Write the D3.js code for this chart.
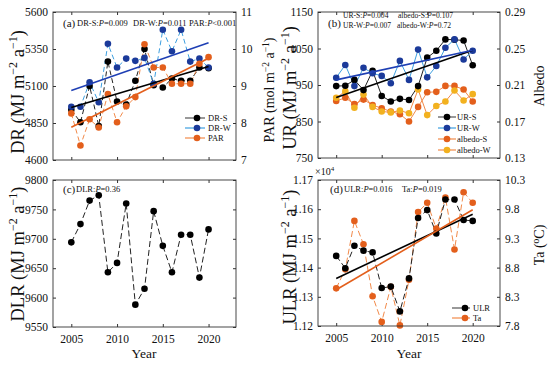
<!DOCTYPE html>
<html>
<head>
<meta charset="utf-8" />
<script src="https://d3js.org/d3.v7.min.js"></script>
<style>
  body { margin: 0; background: #fff; }
  text { font-family: "Liberation Serif", "Times New Roman", serif; fill: #111; }
</style>
</head>
<body>
<svg id="viz" width="550" height="365"></svg>
<script>
// ---- data ----
var years = [2005, 2006, 2007, 2008, 2009, 2010, 2011, 2012, 2013, 2014, 2015, 2016, 2017, 2018, 2019, 2020];

// (a)
var drS = [4940, 4855, 5100, 4830, 5265, 4995, 4975, 5135, 5350, 5105, 5090, 5150, 5135, 5135, 5225, 5220];
var drW = [4960, 4960, 5125, 4990, 5385, 5225, 5285, 5270, 5290, 5115, 5480, 5335, 5480, 5265, 5285, 5225];
var par = [8.26, 7.39, 8.10, 7.88, 8.78, 8.02, 8.45, 8.70, 10.13, 9.50, 9.50, 9.06, 9.06, 9.06, 9.60, 9.78];
var drSTrend = [4954, 5232];
var drWTrend = [5070, 5392];
var parTrend = [7.885, 9.75];

// (b)
var urS = [947, 948, 964, 936, 989, 920, 905, 912, 909, 947, 1025, 1044, 1075, 1074, 1072, 1004];
var urW = [970, 1005, 947, 997, 982, 975, 955, 1016, 964, 1047, 971, 1002, 1052, 1075, 1020, 1044];
var albS = [0.1925, 0.196, 0.189, 0.194, 0.188, 0.1845, 0.181, 0.178, 0.170, 0.186, 0.202, 0.2025, 0.209, 0.209, 0.205, 0.192];
var albW = [0.196, 0.203, 0.185, 0.1995, 0.186, 0.181, 0.180, 0.182, 0.179, 0.205, 0.177, 0.187, 0.192, 0.204, 0.193, 0.200];
var urSTrend = [916, 1045];
var urWTrend = [964, 1045];

// (c)
var dlr = [9694, 9725, 9765, 9774, 9643, 9659, 9760, 9588, 9615, 9747, 9688, 9643, 9707, 9707, 9634, 9716];

// (d)  ULR in units of 10^4
var ulr = [1.1440, 1.1398, 1.1475, 1.1458, 1.1452, 1.1330, 1.1335, 1.1250, 1.1363, 1.1570, 1.1597, 1.1517, 1.1633, 1.1633, 1.1563, 1.1560];
var ta = [8.445, 8.77, 9.60, 9.20, 8.31, 7.87, 8.47, 7.81, 8.59, 9.75, 9.91, 9.47, 10.00, 9.11, 10.09, 9.91];
var ulrTrend = [1.1363, 1.1583];
var taTrend = [8.42, 9.79];

// tick labels
var xTicks = [2005, 2010, 2015, 2020];
var drTicks = [4600, 4850, 5100, 5350, 5600];
var parTicks = [7, 8, 9, 10, 11];
var urTicks = [750, 850, 950, 1050, 1150];
var albTicks = [0.13, 0.17, 0.21, 0.25, 0.29];
var dlrTicks = [9550, 9600, 9650, 9700, 9750, 9800];
var ulrTicks = [1.12, 1.13, 1.14, 1.15, 1.16, 1.17];
var taTicks = [7.8, 8.3, 8.8, 9.3, 9.8, 10.3];

var svg = d3.select("#viz");
var R = 3.3;

var C = {
  blk: "#000",
  navy: "#1b3a9a",
  ltblue: "#3d9fe0",
  trBlue: "#1e3fb4",
  orng: "#e35f1c",
  ltorng: "#f28a4a",
  gold: "#f2b11f"
};

// rich text helper: parts = [text, size, italic, sup]
function rich(sel, parts) {
  var cur = 0;
  parts.forEach(function(p) {
    var size = p[1], target = p[3] ? -size * 0.55 : 0;
    var t = sel.append("tspan").text(p[0]).attr("font-size", size).attr("dy", target - cur);
    if (p[2]) t.attr("font-style", "italic");
    cur = target;
  });
}

function ylabel(x, y, parts) {
  var t = svg.append("text")
    .attr("transform", "translate(" + x + "," + y + ") rotate(-90)")
    .attr("text-anchor", "middle");
  rich(t, parts);
}

function note(x, y, parts) {
  var t = svg.append("text").attr("x", x).attr("y", y).style("white-space", "pre");
  rich(t, parts);
}

function panel(o) {
  var x = d3.scaleLinear().domain([2003, 2023]).range([o.l, o.r]);
  var yL = d3.scaleLinear().domain(o.lDom).range([o.b, o.t]);
  var yR = o.rDom ? d3.scaleLinear().domain(o.rDom).range([o.b, o.t]) : yL;

  var g = svg.append("g");
  g.append("rect").attr("x", o.l).attr("y", o.t).attr("width", o.r - o.l).attr("height", o.b - o.t)
    .attr("fill", "#fff");

  var fs = 11.5;
  g.append("g").attr("transform", "translate(0," + o.b + ")")
    .call(d3.axisBottom(x).tickValues(xTicks).tickSizeInner(-3).tickSizeOuter(0).tickPadding(8)
      .tickFormat(o.xLab ? d3.format("d") : ""));
  g.append("g").attr("transform", "translate(0," + o.t + ")")
    .call(d3.axisTop(x).tickValues(xTicks).tickSizeInner(-3).tickSizeOuter(0).tickFormat(""));
  g.append("g").attr("transform", "translate(" + o.l + ",0)")
    .call(d3.axisLeft(yL).tickValues(o.lTicks).tickSizeInner(-3).tickSizeOuter(0).tickPadding(5)
      .tickFormat(o.lFmt));
  g.append("g").attr("transform", "translate(" + o.r + ",0)")
    .call(d3.axisRight(yR).tickValues(o.rTicks || o.lTicks).tickSizeInner(-3).tickSizeOuter(0).tickPadding(5)
      .tickFormat(o.rDom ? o.rFmt : ""));
  g.selectAll(".domain").remove();
  g.selectAll(".tick line").attr("stroke", "#333");
  g.selectAll(".tick text").attr("font-family", "Liberation Serif, serif").attr("font-size", fs).attr("fill", "#111");

  o.series.forEach(function(s) {
    var sc = s.right ? yR : yL;
    var line = d3.line().x(function(d, i) { return x(years[i]); }).y(function(d) { return sc(d); });
    g.append("path").datum(s.v).attr("d", line).attr("fill", "none")
      .attr("stroke", s.lc).attr("stroke-width", 1).attr("stroke-dasharray", s.dash || null);
  });
  o.series.forEach(function(s) {
    var sc = s.right ? yR : yL;
    g.selectAll(null).data(s.v).enter().append("circle")
      .attr("cx", function(d, i) { return x(years[i]); })
      .attr("cy", function(d) { return sc(d); })
      .attr("r", R).attr("fill", s.mc);
  });
  (o.trends || []).forEach(function(tr) {
    var sc = tr.right ? yR : yL;
    g.append("line")
      .attr("x1", x(2005)).attr("x2", x(2020))
      .attr("y1", sc(tr.v[0])).attr("y2", sc(tr.v[1]))
      .attr("stroke", tr.c).attr("stroke-width", 1.6);
  });
  g.append("rect").attr("x", o.l).attr("y", o.t).attr("width", o.r - o.l).attr("height", o.b - o.t)
    .attr("fill", "none").attr("stroke", "#333").attr("stroke-width", 0.9);

  if (o.legend) {
    var L = o.legend;
    L.items.forEach(function(it, i) {
      var yy = L.y + i * L.dy;
      svg.append("line").attr("x1", L.x1).attr("x2", L.x2).attr("y1", yy).attr("y2", yy)
        .attr("stroke", it.lc).attr("stroke-width", 1.2);
      svg.append("circle").attr("cx", L.mx).attr("cy", yy).attr("r", R).attr("fill", it.mc);
      svg.append("text").attr("x", L.tx).attr("y", yy + 3).attr("font-size", L.fs).text(it.name);
    });
  }
}

var fmt0 = d3.format("d");

// (a)
panel({
  l: 53, r: 236, t: 12, b: 160,
  lDom: [4600, 5600], lTicks: drTicks, lFmt: fmt0,
  rDom: [7, 11], rTicks: parTicks, rFmt: fmt0,
  xLab: false,
  series: [
    { v: drS, lc: "#222", mc: C.blk, dash: "5,3" },
    { v: drW, lc: C.ltblue, mc: C.navy, dash: "5,3" },
    { v: par, lc: C.ltorng, mc: C.orng, dash: "5,3", right: true }
  ],
  trends: [
    { v: drWTrend, c: C.trBlue },
    { v: drSTrend, c: C.blk },
    { v: parTrend, c: C.orng, right: true }
  ],
  legend: { x1: 185, x2: 205, mx: 197, tx: 208, y: 118, dy: 10, fs: 8.5,
    items: [
      { name: "DR-S", lc: "#555", mc: C.blk },
      { name: "DR-W", lc: C.ltblue, mc: C.navy },
      { name: "PAR", lc: C.ltorng, mc: C.orng }
    ] }
});

// (b)
panel({
  l: 318, r: 500, t: 12, b: 158,
  lDom: [750, 1150], lTicks: urTicks, lFmt: fmt0,
  rDom: [0.13, 0.29], rTicks: albTicks, rFmt: d3.format(".2f"),
  xLab: false,
  series: [
    { v: albS, lc: C.ltorng, mc: C.orng, right: true },
    { v: albW, lc: C.ltorng, mc: C.gold, right: true },
    { v: urS, lc: "#222", mc: C.blk },
    { v: urW, lc: C.ltblue, mc: C.navy }
  ],
  trends: [
    { v: urSTrend, c: C.blk },
    { v: urWTrend, c: C.trBlue }
  ],
  legend: { x1: 438, x2: 456, mx: 447, tx: 457, y: 117, dy: 11, fs: 8.5,
    items: [
      { name: "UR-S", lc: "#555", mc: C.blk },
      { name: "UR-W", lc: C.ltblue, mc: C.navy },
      { name: "albedo-S", lc: C.ltorng, mc: C.orng },
      { name: "albedo-W", lc: C.ltorng, mc: C.gold }
    ] }
});

// (c)
panel({
  l: 53, r: 236, t: 180, b: 327,
  lDom: [9550, 9800], lTicks: dlrTicks, lFmt: fmt0,
  xLab: true,
  series: [
    { v: dlr, lc: "#222", mc: C.blk, dash: "6,3" }
  ]
});

// (d)
panel({
  l: 318, r: 500, t: 180, b: 326,
  lDom: [1.12, 1.17], lTicks: ulrTicks, lFmt: d3.format(".2f"),
  rDom: [7.8, 10.3], rTicks: taTicks, rFmt: d3.format(".1f"),
  xLab: true,
  series: [
    { v: ta, lc: C.ltorng, mc: C.orng, dash: "6,3", right: true },
    { v: ulr, lc: "#222", mc: C.blk, dash: "6,3" }
  ],
  trends: [
    { v: ulrTrend, c: C.blk },
    { v: taTrend, c: C.orng, right: true }
  ],
  legend: { x1: 452, x2: 470, mx: 465, tx: 473, y: 308, dy: 10, fs: 8.5,
    items: [
      { name: "ULR", lc: "#555", mc: C.blk },
      { name: "Ta", lc: C.ltorng, mc: C.orng }
    ] }
});

// axis titles
var T = 18.5, S = 12;
ylabel(24, 92, [["DR (MJ m", T], ["\u22122", S, 0, 1], [" a", T], ["\u22121", S, 0, 1], [")", T]]);
ylabel(274, 90, [["PAR (mol m", 14], ["\u22122", 9.5, 0, 1], [" a", 14], ["\u22121", 9.5, 0, 1], [")", 14]]);
ylabel(296, 88, [["UR (MJ m", T], ["\u22122", S, 0, 1], [" a", T], ["\u22121", S, 0, 1], [")", T]]);
ylabel(544, 86, [["Albedo", 14]]);
ylabel(24, 254, [["DLR (MJ m", T], ["\u22122", S, 0, 1], [" a", T], ["\u22121", S, 0, 1], [")", T]]);
ylabel(296, 257, [["ULR (MJ m", T], ["\u22122", S, 0, 1], [" a", T], ["\u22121", S, 0, 1], [")", T]]);
ylabel(544, 245, [["Ta (", 14], ["o", 9.5, 0, 1], ["C)", 14]]);

svg.append("text").attr("x", 144).attr("y", 358).attr("text-anchor", "middle").attr("font-size", 13.5).text("Year");
svg.append("text").attr("x", 409).attr("y", 358).attr("text-anchor", "middle").attr("font-size", 13.5).text("Year");

// x10^4 multiplier
note(315, 175, [["\u00d710", 10], ["4", 7, 0, 1]]);

// annotations
var A = 11, N = 8.5, Nb = 7.6;
note(63, 27, [["(a)", A]]);
note(77, 26, [["DR-S:", N], ["P", N, 1], ["=0.009", N]]);
note(133, 26, [["DR-W:", N], ["P", N, 1], ["=0.011", N]]);
note(189, 26, [["PAR:", N], ["P", N, 1], ["<0.001", N]]);

note(328, 27, [["(b)", A]]);
note(343, 18, [["UR-S:", Nb], ["P", Nb, 1], ["=0.004", Nb]]);
note(398, 18, [["albedo-S:", Nb], ["P", Nb, 1], ["=0.107", Nb]]);
note(343, 28, [["UR-W:", Nb], ["P", Nb, 1], ["=0.007", Nb]]);
note(397, 28, [["albedo-W:", Nb], ["P", Nb, 1], ["=0.72", Nb]]);

note(63, 193, [["(c)", A]]);
note(76, 192, [["DLR:", N], ["P", N, 1], ["=0.36", N]]);

note(330, 193, [["(d)", A]]);
note(344, 192, [["ULR:", N], ["P", N, 1], ["=0.016", N]]);
note(402, 192, [["Ta:", N], ["P", N, 1], ["=0.019", N]]);
</script>
</body>
</html>
